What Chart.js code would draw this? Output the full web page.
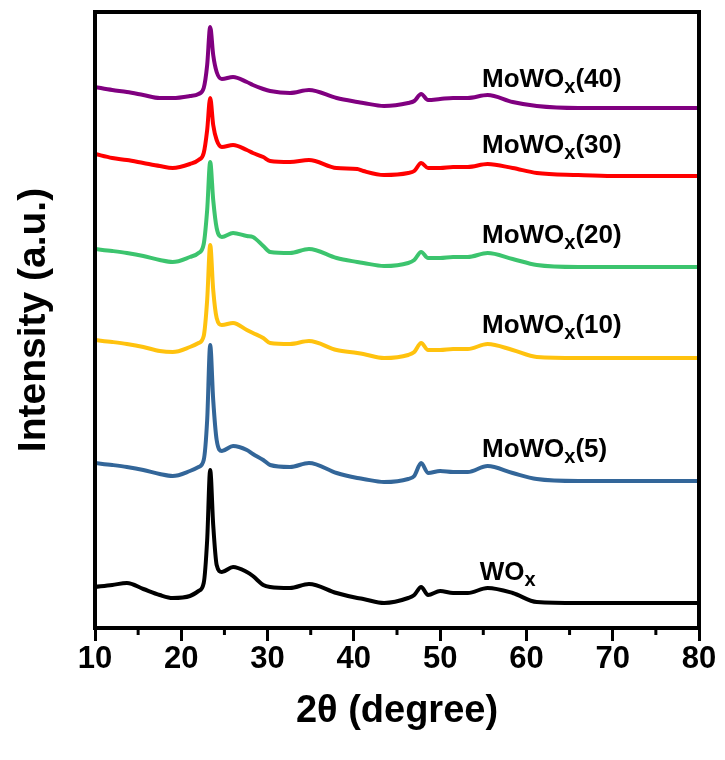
<!DOCTYPE html>
<html lang="en">
<head>
    <meta charset="UTF-8">
    <title>XRD patterns</title>
    <script src="https://cdn.jsdelivr.net/npm/chart.js"></script>
    <style>
        body { margin: 0; background: #fff; }
        #wrap { width: 725px; height: 760px; }
    </style>
</head>
<body>
    <div id="wrap">
        <canvas id="xrdChart" width="725" height="760"></canvas>
    </div>

    <script>
        // 2theta positions shared by all patterns
        const twoTheta = [10, 12, 13.7, 15.6, 17.5, 19, 21, 22, 22.6, 23.0, 23.35, 23.7, 24.1, 24.7, 26, 27.6, 28.3, 29.5, 30.3, 32.6,
            34.8, 38, 40.4, 41.1, 43.5, 46.3, 47.0, 47.8, 48.6, 50.0, 51.5, 53.2, 55.5, 58.4, 61.2, 66, 70, 75, 80];

        // stacked intensities (a.u., already offset)
        const wox = [41, 43, 45, 39, 33, 30, 32, 37, 45, 88, 158, 103, 63, 56, 61, 56, 52, 43, 41, 40,
            44, 35, 30, 29, 25, 30, 33, 41, 33, 37, 35, 35, 40, 35, 26, 25, 25, 25, 25];
        const mowox5 = [165, 163, 161, 158, 154, 152, 157, 161, 168, 208, 283, 228, 188, 177, 182, 178, 174, 168, 163, 161,
            165, 155, 150, 149, 146, 149, 152, 165, 155, 157, 156, 156, 162, 155, 149, 147, 147, 147, 147];
        const mowox10 = [288, 286, 284, 281, 277, 276, 281, 285, 292, 328, 383, 338, 310, 303, 305, 298, 295, 290, 285, 284,
            287, 278, 275, 274, 270, 273, 276, 285, 278, 278, 279, 279, 284, 278, 271, 270, 270, 270, 270];
        const mowox20 = [379, 377, 375, 372, 368, 366, 371, 375, 384, 418, 466, 428, 400, 391, 395, 392, 391, 382, 376, 375,
            379, 370, 366, 365, 362, 365, 368, 376, 370, 370, 371, 371, 375, 369, 363, 361, 361, 361, 361];
        const mowox30 = [474, 470, 468, 465, 462, 460, 464, 468, 475, 498, 530, 503, 488, 481, 483, 478, 475, 471, 467, 466,
            468, 460, 459, 457, 453, 455, 457, 465, 460, 460, 461, 461, 464, 460, 455, 453, 452, 452, 452];
        const mowox40 = [541, 538, 536, 533, 530, 530, 532, 534, 540, 563, 601, 573, 556, 549, 551, 546, 543, 539, 537, 535,
            538, 530, 526, 525, 522, 525, 527, 534, 528, 529, 530, 530, 533, 526, 522, 520, 520, 520, 520];

        const seriesData = [wox, mowox5, mowox10, mowox20, mowox30, mowox40];
        const seriesColors = ['#000000', '#336699', '#ffc20e', '#3cc46e', '#ff0000', '#800080'];

        // curve labels: main text, subscript, suffix, anchor (2theta, intensity)
        const labelMain = ['WO', 'MoWO', 'MoWO', 'MoWO', 'MoWO', 'MoWO'];
        const labelSub = ['x', 'x', 'x', 'x', 'x', 'x'];
        const labelTail = ['', '(5)', '(10)', '(20)', '(30)', '(40)'];
        const labelX = [54.6, 54.85, 54.85, 54.85, 54.85, 54.85];
        const labelY = [48, 171, 295, 385, 475, 541];

        const xMin = 10, xMax = 80, xStep = 10, xMinorStep = 5;

        const FONT = "Arial, 'Liberation Sans', Helvetica, sans-serif";

        const datasets = seriesData.map((vals, i) => ({
            data: vals.map((v, j) => ({ x: twoTheta[j], y: v })),
            borderColor: seriesColors[i],
            borderWidth: 4,
            pointRadius: 0,
            cubicInterpolationMode: 'monotone',
            borderJoinStyle: 'round',
            borderCapStyle: 'round'
        }));

        // frame, minor ticks and curve labels
        const decorations = {
            id: 'decorations',
            afterDatasetsDraw(chart) {
                const { ctx, chartArea: a, scales: { x, y } } = chart;
                ctx.save();
                ctx.fillStyle = '#000';
                ctx.textBaseline = 'alphabetic';
                ctx.textAlign = 'left';
                for (let i = 0; i < labelMain.length; i++) {
                    let px = x.getPixelForValue(labelX[i]);
                    const py = y.getPixelForValue(labelY[i]);
                    ctx.font = 'bold 26px ' + FONT;
                    ctx.fillText(labelMain[i], px, py);
                    px += ctx.measureText(labelMain[i]).width;
                    ctx.font = 'bold 20px ' + FONT;
                    ctx.fillText(labelSub[i], px, py + 6);
                    px += ctx.measureText(labelSub[i]).width;
                    ctx.font = 'bold 26px ' + FONT;
                    ctx.fillText(labelTail[i], px, py);
                }

                ctx.strokeStyle = '#000';
                ctx.lineWidth = 3;
                for (let v = xMin + xMinorStep; v < xMax; v += xStep) {
                    const px = x.getPixelForValue(v);
                    ctx.beginPath();
                    ctx.moveTo(px, a.bottom);
                    ctx.lineTo(px, a.bottom + 7);
                    ctx.stroke();
                }

                ctx.lineWidth = 4;
                ctx.strokeRect(a.left, a.top, a.right - a.left, a.bottom - a.top);
                ctx.restore();
            }
        };

        new Chart(document.getElementById('xrdChart'), {
            type: 'line',
            data: { datasets: datasets },
            plugins: [decorations],
            options: {
                responsive: false,
                animation: false,
                layout: { padding: { top: 12, right: 26, bottom: 0, left: 0 } },
                plugins: {
                    legend: { display: false },
                    tooltip: { enabled: false }
                },
                scales: {
                    x: {
                        type: 'linear',
                        min: xMin,
                        max: xMax,
                        afterFit: (axis) => { axis.height = 132; },
                        border: { display: false },
                        grid: {
                            display: true,
                            drawOnChartArea: false,
                            drawTicks: true,
                            tickLength: 13,
                            tickWidth: 3,
                            tickColor: '#000'
                        },
                        ticks: {
                            stepSize: xStep,
                            autoSkip: false,
                            maxRotation: 0,
                            padding: 0,
                            color: '#000',
                            font: { family: FONT, size: 31, weight: 'bold' }
                        },
                        title: {
                            display: true,
                            text: '2θ (degree)',
                            color: '#000',
                            font: { family: FONT, size: 38, weight: 'bold' },
                            padding: { top: 0, bottom: 26 }
                        }
                    },
                    y: {
                        min: 0,
                        max: 616,
                        afterFit: (axis) => { axis.width = 95; },
                        border: { display: false },
                        grid: { display: false },
                        ticks: { display: false },
                        title: {
                            display: true,
                            text: 'Intensity (a.u.)',
                            color: '#000',
                            font: { family: FONT, size: 39, weight: 'bold' },
                            padding: { top: 11, bottom: 0 }
                        }
                    }
                }
            }
        });
    </script>
</body>
</html>
